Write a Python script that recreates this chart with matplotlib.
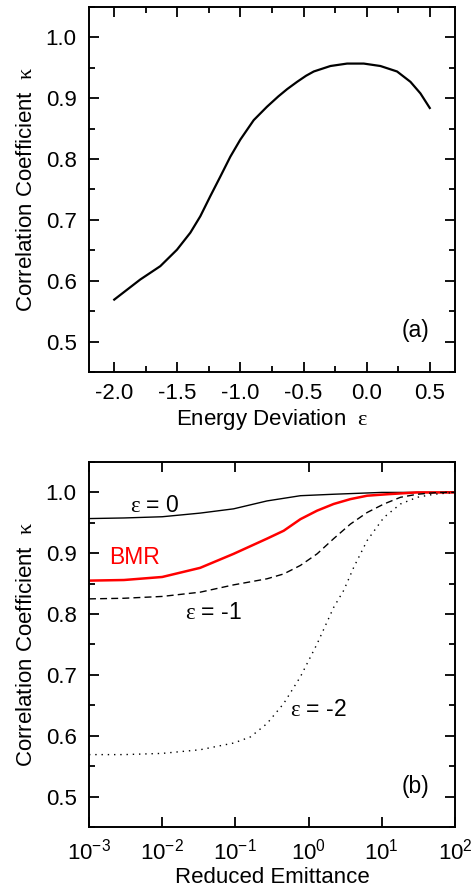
import numpy as np
import matplotlib
matplotlib.use("Agg")
import matplotlib.pyplot as plt
from matplotlib.ticker import MultipleLocator, FixedLocator, NullLocator

plt.rcParams['font.family'] = ['Liberation Sans', 'DejaVu Sans']
plt.rcParams['mathtext.fontset'] = 'custom'
plt.rcParams['mathtext.rm'] = 'Liberation Serif'
plt.rcParams['mathtext.it'] = 'Liberation Serif'

# Panel (a): correlation coefficient vs energy deviation
eps_a = [-2.0, -1.794, -1.635, -1.503, -1.397, -1.318, -1.239, -1.160, -1.080,
         -1.001, -0.895, -0.79, -0.70, -0.63, -0.551, -0.48, -0.419, -0.287, -0.155,
         -0.023, 0.109, 0.241, 0.347, 0.426, 0.5]
kappa_a = [0.569, 0.602, 0.624, 0.651, 0.679, 0.706, 0.739, 0.771, 0.804,
           0.832, 0.864, 0.886, 0.903, 0.915, 0.927, 0.937, 0.944, 0.953, 0.957,
           0.957, 0.953, 0.944, 0.927, 0.908, 0.884]

# Panel (b): correlation coefficient vs reduced emittance
em_eps0 = [1e-3, 3e-3, 1e-2, 0.033, 0.0944, 0.27, 0.773, 2.2, 10.0, 100.0]
k_eps0 = [0.957, 0.958, 0.960, 0.966, 0.973, 0.986, 0.9946, 0.997, 1.0, 1.0]

em_bmr = [1e-3, 3e-3, 1e-2, 0.033, 0.0944, 0.27, 0.457, 0.773, 1.306, 2.2, 3.73,
          6.31, 11.9, 30.0, 100.0]
k_bmr = [0.855, 0.856, 0.861, 0.876, 0.899, 0.924, 0.937, 0.956, 0.970, 0.981, 0.989,
         0.9946, 0.997, 1.0, 1.0]

em_epsm1 = [1e-3, 3e-3, 1e-2, 0.033, 0.0944, 0.27, 0.457, 0.773, 1.306, 2.2, 3.73,
            6.31, 10.7, 18.0, 30.5, 60.0, 100.0]
k_epsm1 = [0.825, 0.826, 0.829, 0.836, 0.848, 0.858, 0.866, 0.880, 0.899, 0.924, 0.948,
           0.967, 0.981, 0.992, 0.997, 1.0, 1.0]

em_epsm2 = [1e-3, 3e-3, 1e-2, 0.033, 0.0944, 0.16, 0.27, 0.457, 0.773, 1.306, 2.2,
            3.02, 4.14, 6.31, 10.7, 18.0, 30.5, 51.5, 100.0]
k_epsm2 = [0.569, 0.569, 0.571, 0.577, 0.588, 0.598, 0.620, 0.653, 0.697, 0.751, 0.811,
           0.839, 0.877, 0.921, 0.959, 0.981, 0.992, 0.997, 1.0]

yticks = [0.5, 0.6, 0.7, 0.8, 0.9, 1.0]
ytick_labels = ['0.5', '0.6', '0.7', '0.8', '0.9', '1.0']
xticks_a = [-2.0, -1.5, -1.0, -0.5, 0.0, 0.5]
xtick_labels_a = ['-2.0', '-1.5', '-1.0', '-0.5', '0.0', '0.5']
xticks_b = [1e-3, 1e-2, 1e-1, 1e0, 1e1, 1e2]

fig = plt.figure(figsize=(4.73, 8.88), dpi=100)
W, H = 473, 888
ax1 = fig.add_axes([89 / W, 1 - 372 / H, 366 / W, 365 / H])
ax2 = fig.add_axes([89 / W, 1 - 827 / H, 366 / W, 365 / H])

fs = 16

def style(ax):
    for s in ax.spines.values():
        s.set_linewidth(1.4)
    ax.tick_params(which='both', direction='in', top=True, right=True,
                   labelsize=fs, width=1.3)
    ax.tick_params(axis='y', pad=9)
    ax.tick_params(axis='x', pad=8)
    ax.tick_params(which='major', length=7.5)
    ax.tick_params(which='minor', length=4)
    ax.set_ylim(0.45, 1.05)
    ax.set_yticks(yticks)
    ax.set_yticklabels(ytick_labels)
    ax.yaxis.set_minor_locator(MultipleLocator(0.05))

# Panel a
ax1.plot(eps_a, kappa_a, color='black', lw=1.6)
ax1.set_xlim(-2.2, 0.7)
ax1.set_xticks(xticks_a)
ax1.set_xticklabels(xtick_labels_a)
ax1.xaxis.set_minor_locator(MultipleLocator(0.25))
style(ax1)
ax1.set_xlabel(r'Energy Deviation  $\varepsilon$', fontsize=fs, labelpad=2)
ax1.set_ylabel(r'Correlation Coefficient  $\kappa$', fontsize=fs, labelpad=6)
ax1.text(0.93, 0.113, '(a)', transform=ax1.transAxes, fontsize=fs + 0.5,
         ha='right', va='center')

# Panel b
ax2.plot(em_eps0, k_eps0, color='black', lw=1.0)
ax2.plot(em_bmr, k_bmr, color='red', lw=1.8)
ax2.plot(em_epsm1, k_epsm1, color='black', lw=1.0, dashes=(5, 3))
ax2.plot(em_epsm2, k_epsm2, color='black', lw=1.0, dashes=(1, 3.5))
ax2.set_xscale('log')
ax2.set_xlim(1e-3, 1e2)
ax2.xaxis.set_major_locator(FixedLocator(xticks_b))
ax2.xaxis.set_minor_locator(NullLocator())
style(ax2)
ax2.set_xlabel('Reduced Emittance', fontsize=fs, labelpad=2)
ax2.set_ylabel(r'Correlation Coefficient  $\kappa$', fontsize=fs, labelpad=6)
lfs = 16.5
ax2.text(3.6e-3, 0.979, r'$\varepsilon$ = 0', fontsize=lfs, ha='left', va='center')
ax2.text(1.9e-3, 0.893, 'BMR', fontsize=lfs, color='red', ha='left', va='center')
ax2.text(2.05e-2, 0.803, r'$\varepsilon$ = -1', fontsize=lfs, ha='left', va='center')
ax2.text(0.56, 0.643, r'$\varepsilon$ = -2', fontsize=lfs, ha='left', va='center')
ax2.text(0.93, 0.11, '(b)', transform=ax2.transAxes, fontsize=fs + 0.5,
         ha='right', va='center')

fig.savefig('out.png', dpi=100)
